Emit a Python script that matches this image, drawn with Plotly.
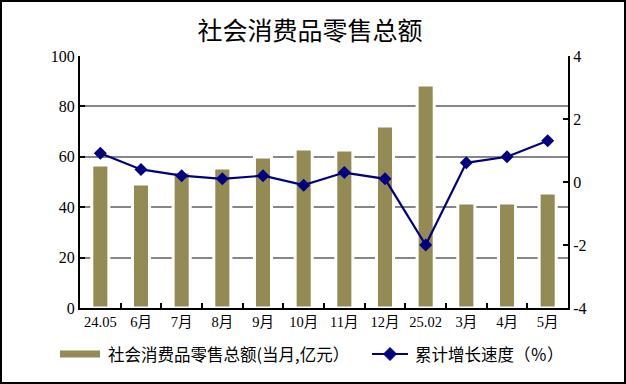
import plotly.graph_objects as go

categories = ["24.05", "6月", "7月", "8月", "9月", "10月", "11月", "12月", "25.02", "3月", "4月", "5月"]
retail_sales = [56.7, 49.2, 54.0, 55.6, 59.9, 63.1, 62.7, 72.2, 88.5, 41.7, 41.7, 45.6]
growth_rate = [0.91, 0.40, 0.20, 0.10, 0.20, -0.10, 0.30, 0.10, -2.00, 0.61, 0.80, 1.31]
left_ticks = [0, 20, 40, 60, 80, 100]
right_ticks = [-4, -2, 0, 2, 4]
right_tick_labels = ["-4", "-2", "0", "2", "4"]
bar_label = "社会消费品零售总额(当月,亿元）"
line_label = "累计增长速度（％）"

W, H = 626, 384
L, R, T, B = 80, 568, 56, 308
pw, ph = R - L, B - T
BAR_COLOR = "#948A54"
LINE_COLOR = "#000080"


def px(x):
    return (x - L) / pw


def py(y):
    return (B - y) / ph


fig = go.Figure()
fig.add_trace(go.Bar(
    x=categories, y=retail_sales, name=bar_label,
    marker=dict(color=BAR_COLOR, line=dict(color="white", width=3)),
    width=0.42, yaxis="y",
))
fig.add_trace(go.Scatter(
    x=categories, y=growth_rate, name=line_label, yaxis="y2",
    mode="lines+markers",
    line=dict(color=LINE_COLOR, width=2.2),
    marker=dict(symbol="diamond", size=10, color=LINE_COLOR),
))

serif = "Liberation Serif, Times New Roman, Noto Sans CJK SC, serif"
cjk = "Noto Sans CJK SC"
fig.update_layout(
    width=W, height=H,
    margin=dict(l=L, r=W - R, t=T, b=H - B, autoexpand=False),
    paper_bgcolor="white", plot_bgcolor="white",
    title=dict(text="社会消费品零售总额", x=310 / W, xanchor="center",
               y=1 - 31 / H, yanchor="middle",
               font=dict(family=cjk, size=25, color="black")),
    font=dict(family=serif, size=14, color="black"),
    showlegend=False,
    xaxis=dict(type="category", range=[-0.5, 11.5], showline=True, linecolor="black", linewidth=2,
               ticks="inside", tickson="boundaries", ticklen=5, tickwidth=2, tickcolor="black",
               showgrid=False, tickangle=0, automargin=False,
               tickfont=dict(family=serif, size=14.5)),
    yaxis=dict(range=[0, 100], tickvals=left_ticks, showline=True, linecolor="black", linewidth=2,
               ticks="inside", ticklen=5, tickwidth=2, tickcolor="black", automargin=False,
               showgrid=True, gridcolor="#868686", gridwidth=1.5, zeroline=False,
               tickfont=dict(family=serif, size=16)),
    yaxis2=dict(range=[-4, 4], tickvals=right_ticks, ticktext=right_tick_labels,
                overlaying="y", side="right", showline=True,
                linecolor="black", linewidth=2, ticks="inside", ticklen=5, tickwidth=2,
                tickcolor="black", showgrid=False, zeroline=False, automargin=False,
                tickfont=dict(family=serif, size=16)),
)

# outer frame
fig.add_shape(type="rect", xref="paper", yref="paper",
              x0=px(1), x1=px(W - 1), y0=py(H - 1), y1=py(1),
              line=dict(color="black", width=2), fillcolor="rgba(0,0,0,0)", layer="above")

# legend (drawn manually)
LY = 354
fig.add_shape(type="rect", xref="paper", yref="paper",
              x0=px(60), x1=px(100), y0=py(LY + 3.5), y1=py(LY - 3.5),
              line=dict(width=0), fillcolor=BAR_COLOR)
fig.add_annotation(xref="paper", yref="paper", x=px(106), y=py(LY), xanchor="left", yanchor="middle",
                   text=bar_label, showarrow=False, font=dict(family=cjk, size=16.5, color="black"))
fig.add_shape(type="line", xref="paper", yref="paper",
              x0=px(372), x1=px(408), y0=py(LY), y1=py(LY),
              line=dict(color=LINE_COLOR, width=2.2))
cx, d = 390, 6.5
fig.add_shape(type="path", xref="paper", yref="paper",
              path=f"M {px(cx - d)} {py(LY)} L {px(cx)} {py(LY - d)} L {px(cx + d)} {py(LY)} L {px(cx)} {py(LY + d)} Z",
              line=dict(color=LINE_COLOR, width=1), fillcolor=LINE_COLOR)
fig.add_annotation(xref="paper", yref="paper", x=px(413), y=py(LY), xanchor="left", yanchor="middle",
                   text=line_label, showarrow=False, font=dict(family=cjk, size=16.5, color="black"))

fig.write_html("out.html", config={"displayModeBar": False},
               post_script="document.body.style.margin='0';document.body.style.padding='0';")
